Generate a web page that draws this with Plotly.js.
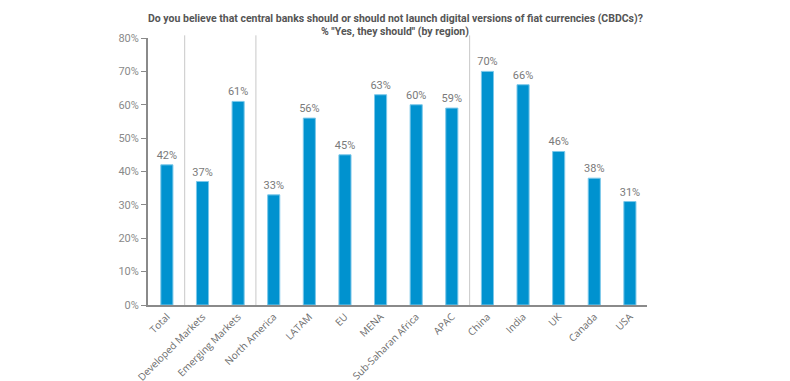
<!DOCTYPE html>
<html>
<head>
<meta charset="utf-8">
<script src="https://cdn.plot.ly/plotly-3.0.1.min.js"></script>
<style>html,body{margin:0;padding:0;background:#fff;}#chart{width:790px;height:381px;}</style>
</head>
<body>
<div id="chart"></div>
<script>
const categories = ["Total","Developed Markets","Emerging Markets","North America","LATAM","EU","MENA","Sub-Saharan Africa","APAC","China","India","UK","Canada","USA"];
const values = [42,37,61,33,56,45,63,60,59,70,66,46,38,31];
const labels = ["42%","37%","61%","33%","56%","45%","63%","60%","59%","70%","66%","46%","38%","31%"];
const yTickVals = [0,10,20,30,40,50,60,70,80];
const yTickText = ["0%","10%","20%","30%","40%","50%","60%","70%","80%"];
const separatorsAfter = [0,2,8];
const titleLines = [
  'Do you believe that central banks should or should not launch digital versions of fiat currencies (CBDCs)?',
  '% "Yes, they should" (by region)'
];

const trace = {
  type: 'bar',
  x: categories.map((c,i)=>i),
  y: values,
  width: 0.34,
  marker: {color: '#0092CF', line: {color: '#7CC8EA', width: 1}},
  text: labels,
  textposition: 'outside',
  constraintext: 'none',
  cliponaxis: false,
  textfont: {family: 'Liberation Sans Narrow, Roboto, sans-serif', size: 11, color: '#7a7a7a'},
  hoverinfo: 'none'
};

const shapes = separatorsAfter.map(i => ({
  type: 'line', xref: 'x', yref: 'paper',
  x0: i + 0.5, x1: i + 0.5, y0: 0, y1: 1.01,
  line: {color: '#c8c8c8', width: 1}
}));

const titleFont = {family: 'Liberation Sans Narrow, Roboto, sans-serif', size: 10.5, color: '#555555'};
const annotations = [
  {text: '<b>' + titleLines[0] + '</b>', xref: 'paper', yref: 'paper', x: 0.495, y: 1.0712, xanchor: 'center', yanchor: 'middle', showarrow: false, font: titleFont},
  {text: '<b>' + titleLines[1] + '</b>', xref: 'paper', yref: 'paper', x: 0.495, y: 1.0225, xanchor: 'center', yanchor: 'middle', showarrow: false, font: titleFont}
];

const layout = {
  width: 790, height: 381,
  margin: {l: 148, r: 143, t: 38, b: 76},
  paper_bgcolor: '#fff', plot_bgcolor: '#fff',
  showlegend: false,
  xaxis: {
    range: [-0.53, 13.48],
    tickmode: 'array',
    tickvals: categories.map((c,i)=>i),
    ticktext: categories,
    tickangle: -45,
    tickfont: {family: 'Open Sans, sans-serif', size: 10, color: '#6b6b6b'},
    showline: true, linecolor: '#8a8a8a', linewidth: 2,
    ticks: '', showgrid: false, zeroline: false,
    fixedrange: true
  },
  yaxis: {
    range: [0, 80],
    tickmode: 'array',
    tickvals: yTickVals,
    ticktext: yTickText,
    tickfont: {family: 'Liberation Sans Narrow, Roboto, sans-serif', size: 11, color: '#8a8a8a'},
    showline: true, linecolor: '#8a8a8a', linewidth: 2,
    ticks: 'outside', ticklen: 5, tickcolor: '#8a8a8a', tickwidth: 1,
    showgrid: false, zeroline: false,
    fixedrange: true
  },
  shapes: shapes,
  annotations: annotations
};

Plotly.newPlot('chart', [trace], layout, {displayModeBar: false, staticPlot: true});
</script>
</body>
</html>
